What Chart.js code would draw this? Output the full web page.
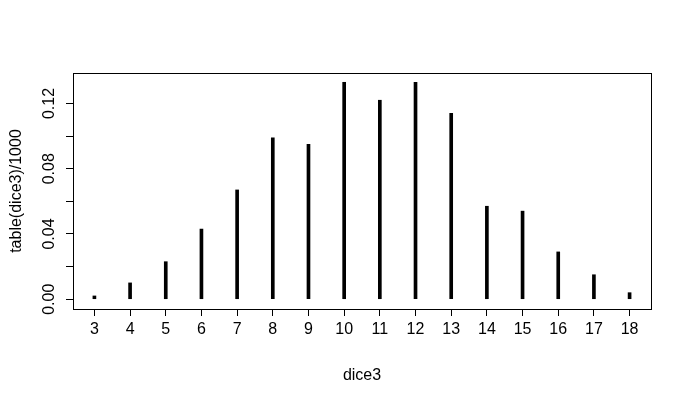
<!DOCTYPE html>
<html>
<head>
<meta charset="utf-8">
<script src="https://cdn.jsdelivr.net/npm/chart.js@4/dist/chart.umd.min.js"></script>
<style>
  html, body { margin: 0; padding: 0; background: #fff; }
  #wrap { width: 689px; height: 400px; }
</style>
</head>
<body>
<div id="wrap"><canvas id="chart" width="689" height="400"></canvas></div>
<script>
// dice3 sums and relative frequencies (table(dice3)/1000)
const sums = [3, 4, 5, 6, 7, 8, 9, 10, 11, 12, 13, 14, 15, 16, 17, 18];
const freqs = [0.002, 0.010, 0.023, 0.043, 0.067, 0.099, 0.095, 0.133,
               0.122, 0.133, 0.114, 0.057, 0.054, 0.029, 0.015, 0.004];
const yLabelEvery = [0.00, 0.04, 0.08, 0.12];

const FONT = "'Liberation Sans', Arial, sans-serif";
const FSIZE = 16;

// R-style box around the plot region
const boxPlugin = {
  id: "box",
  afterDraw(chart) {
    const { ctx, chartArea: a } = chart;
    ctx.save();
    ctx.strokeStyle = "#000";
    ctx.lineWidth = 1;
    ctx.strokeRect(Math.round(a.left) + 0.5, Math.round(a.top) + 0.5,
                   Math.round(a.right - a.left), Math.round(a.bottom - a.top));
    ctx.restore();
  }
};

new Chart(document.getElementById("chart"), {
  type: "bar",
  data: {
    datasets: [{
      data: sums.map((s, i) => ({ x: s, y: freqs[i] })),
      backgroundColor: "#000",
      borderWidth: 0,
      barThickness: 3,
    }]
  },
  options: {
    responsive: false,
    animation: false,
    events: [],
    layout: { padding: { top: 73, right: 38, left: 0, bottom: 0 } },
    plugins: { legend: { display: false }, tooltip: { enabled: false } },
    scales: {
      x: {
        type: "linear",
        min: 2.4,
        max: 18.6,
        offset: false,
        border: { display: false },
        grid: { offset: false, drawOnChartArea: false, drawTicks: true, tickLength: 7, color: "#000" },
        ticks: {
          stepSize: 1,
          includeBounds: false,
          autoSkip: false,
          maxRotation: 0,
          padding: 4,
          color: "#000",
          font: { family: FONT, size: FSIZE },
          callback: v => String(v),
        },
        title: {
          display: true,
          text: "dice3",
          color: "#000",
          font: { family: FONT, size: FSIZE },
          padding: { top: 0, bottom: 15 },
        },
        afterFit: s => { s.height = 91; },
      },
      y: {
        min: -0.006,
        max: 0.1387,
        border: { display: false },
        grid: { drawOnChartArea: false, drawTicks: true, tickLength: 7, color: "#000" },
        ticks: {
          stepSize: 0.02,
          includeBounds: false,
          autoSkip: false,
          minRotation: 90,
          maxRotation: 90,
          crossAlign: "center",
          padding: 1,
          color: "#000",
          font: { family: FONT, size: FSIZE },
          callback: v => yLabelEvery.some(t => Math.abs(t - v) < 1e-6) ? v.toFixed(2) : "",
        },
        title: {
          display: true,
          text: "table(dice3)/1000",
          color: "#000",
          font: { family: FONT, size: FSIZE },
          padding: { top: 7, bottom: 0 },
        },
        afterFit: s => { s.width = 73; },
      }
    }
  },
  plugins: [boxPlugin]
});
</script>
</body>
</html>
